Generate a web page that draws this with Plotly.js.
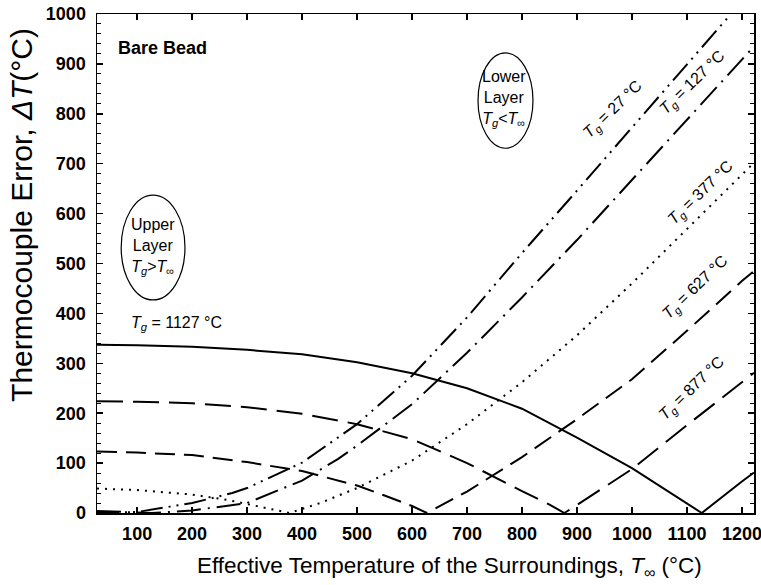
<!DOCTYPE html>
<html>
<head>
<meta charset="utf-8">
<script src="https://cdn.plot.ly/plotly-3.0.1.min.js"></script>
<style>html,body{margin:0;padding:0;background:#fff;}#chart{width:761px;height:585px;}</style>
</head>
<body>
<div id="chart"></div>
<script>
// Effective temperature of the surroundings T_inf (°C) and thermocouple error ΔT (°C), one pair per gas temperature Tg
const tg27_x = [27, 100, 200, 273, 300, 400, 500, 600, 700, 800, 900, 1000, 1100, 1180];
const tg27_y = [0, 2, 20, 40, 50, 101, 178, 275, 392, 521, 646, 772, 898, 1000];

const tg127_x = [27, 127, 200, 300, 400, 465, 500, 600, 700, 800, 900, 1000, 1100, 1200, 1222];
const tg127_y = [4, 0, 5, 20, 65, 108, 135, 218, 321, 432, 547, 667, 788, 908, 935];

const tg377_x = [27, 100, 200, 265, 300, 355, 377, 433, 500, 600, 700, 800, 900, 1000, 1100, 1200, 1222];
const tg377_y = [49, 46, 37, 26, 18, 5, 0, 20, 50, 105, 178, 262, 356, 460, 570, 678, 702];

const tg627_x = [27, 100, 200, 300, 400, 500, 550, 600, 627, 700, 800, 900, 1000, 1100, 1200, 1222];
const tg627_y = [123, 121, 116, 102, 84, 55, 35, 14, 0, 43, 112, 188, 268, 365, 465, 485];

const tg877_x = [27, 100, 200, 300, 400, 500, 600, 700, 800, 850, 877, 900, 1000, 1100, 1200, 1222];
const tg877_y = [224, 223, 220, 212, 199, 178, 148, 100, 44, 17, 0, 16, 88, 176, 262, 281];

const tg1127_x = [27, 100, 200, 300, 400, 500, 600, 700, 800, 900, 1000, 1100, 1127, 1200, 1222];
const tg1127_y = [337, 336, 333, 327, 318, 302, 280, 250, 209, 151, 90, 20, 0, 63, 81];

const seriesNames = ['Tg = 27 °C', 'Tg = 127 °C', 'Tg = 377 °C', 'Tg = 627 °C', 'Tg = 877 °C', 'Tg = 1127 °C'];

const FONT = 'Liberation Sans, Arial, Helvetica, sans-serif';

function tr(x, y, name, dash) {
  return {x: x, y: y, name: name, type: 'scatter', mode: 'lines',
          line: {color: '#000', width: 2, dash: dash}, hoverinfo: 'x+y+name'};
}

const data = [
  tr(tg27_x, tg27_y, seriesNames[0], '22px,6px,2px,6px,2px,6px'),
  tr(tg127_x, tg127_y, seriesNames[1], '24px,7px,2px,7px'),
  tr(tg377_x, tg377_y, seriesNames[2], '2px,6px'),
  tr(tg627_x, tg627_y, seriesNames[3], '20px,9px'),
  tr(tg877_x, tg877_y, seriesNames[4], '26px,10px'),
  tr(tg1127_x, tg1127_y, seriesNames[5], 'solid')
];

const lblFont = {family: FONT, size: 16, color: '#000'};
const boxFont = {family: FONT, size: 16, color: '#000'};

const layout = {
  width: 761, height: 585,
  margin: {l: 97, r: 7, t: 14, b: 72, pad: 0},
  paper_bgcolor: '#fff', plot_bgcolor: '#fff',
  showlegend: false,
  font: {family: FONT, color: '#000'},
  xaxis: {
    range: [27, 1222], tick0: 0, dtick: 100,
    ticks: 'inside', ticklen: 6, tickwidth: 1.5, tickcolor: '#000',
    showline: true, linecolor: '#000', linewidth: 1.5, mirror: 'ticks',
    showgrid: false, zeroline: false,
    ticklabeloverflow: 'allow',
    tickfont: {family: FONT, size: 18, color: '#000', weight: 'bold'},
    ticklabelstandoff: 4
  },
  yaxis: {
    range: [0, 1000], tick0: 0, dtick: 100,
    ticks: 'inside', ticklen: 6, tickwidth: 1.5, tickcolor: '#000',
    minor: {dtick: 20, ticks: 'inside', ticklen: 4, tickwidth: 1, tickcolor: '#000'},
    showline: true, linecolor: '#000', linewidth: 1.5, mirror: 'ticks',
    showgrid: false, zeroline: false,
    tickfont: {family: FONT, size: 18, color: '#000', weight: 'bold'},
    ticklabelstandoff: 6
  },
  shapes: [
    {type: 'circle', xref: 'x', yref: 'y', x0: 71, x1: 187, y0: 427, y1: 637,
     line: {color: '#000', width: 1.2}},
    {type: 'circle', xref: 'x', yref: 'y', x0: 720, x1: 820, y0: 731, y1: 922,
     line: {color: '#000', width: 1.2}}
  ],
  annotations: [
    {xref: 'paper', yref: 'paper', x: 0.536, y: -0.108, xanchor: 'center', yanchor: 'middle',
     text: 'Effective Temperature of the Surroundings, <i>T</i><sub>∞</sub> (°C)', showarrow: false,
     font: {family: FONT, size: 22.5, color: '#000'}},
    {xref: 'paper', yref: 'paper', x: -0.116, y: 0.597, xanchor: 'center', yanchor: 'middle',
     textangle: -90, text: 'Thermocouple Error, <i>ΔT</i>(°C)', showarrow: false,
     font: {family: FONT, size: 30, color: '#000'}},
    {x: 147, y: 932, text: 'Bare Bead', showarrow: false,
     font: {family: FONT, size: 18, color: '#000', weight: 'bold'}},
    {x: 129, y: 535, text: 'Upper<br>Layer<br><i>T</i><sub><i>g</i></sub>&gt;<i>T</i><sub>∞</sub>',
     showarrow: false, font: boxFont},
    {x: 768, y: 830, text: 'Lower<br>Layer<br><i>T</i><sub><i>g</i></sub>&lt;<i>T</i><sub>∞</sub>',
     showarrow: false, font: boxFont},
    {x: 171, y: 379, text: '<i>T</i><sub><i>g</i></sub> = 1127 °C', showarrow: false, font: lblFont},
    {x: 966, y: 808, text: '<i>T</i><sub><i>g</i></sub> = 27 °C', showarrow: false, textangle: -44, font: lblFont},
    {x: 1111, y: 862, text: '<i>T</i><sub><i>g</i></sub> = 127 °C', showarrow: false, textangle: -44, font: lblFont},
    {x: 1124, y: 641, text: '<i>T</i><sub><i>g</i></sub> = 377 °C', showarrow: false, textangle: -44, font: lblFont},
    {x: 1116, y: 451, text: '<i>T</i><sub><i>g</i></sub> = 627 °C', showarrow: false, textangle: -44, font: lblFont},
    {x: 1109, y: 250, text: '<i>T</i><sub><i>g</i></sub> = 877 °C', showarrow: false, textangle: -44, font: lblFont}
  ]
};

Plotly.newPlot('chart', data, layout, {displayModeBar: false, staticPlot: true});
</script>
</body>
</html>
